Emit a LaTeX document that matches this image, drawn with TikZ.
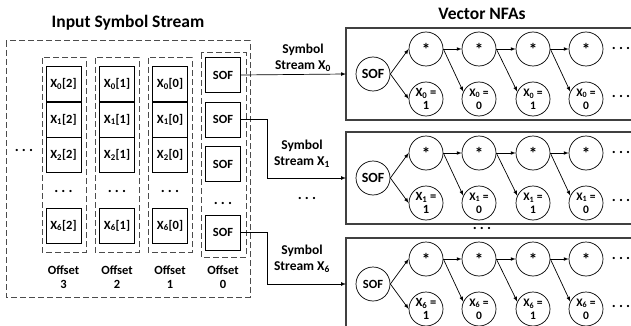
\documentclass[tikz,border=0pt]{standalone}
\usepackage{fontspec}
\setmainfont{Carlito}
\usetikzlibrary{calc}

\newcommand{\threedots}{.\kern3.2pt.\kern3.2pt.}

\tikzset{
	dashbox/.style={draw=black!70, line width=1pt, dash pattern=on 6pt off 3pt},
	cell/.style={draw, line width=0.8pt, minimum width=35pt, minimum height=35pt, inner sep=0pt, font=\bfseries\fontsize{12.5}{14}\selectfont},
	nfabox/.style={draw=black!75, line width=1.2pt},
	state/.style={draw, circle, line width=0.7pt, minimum size=34pt, inner sep=0pt, align=center},
	lbl/.style={font=\bfseries\fontsize{13.5}{16}\selectfont, align=center},
	ttl/.style={font=\bfseries\fontsize{17.5}{20}\selectfont},
	dots/.style={font=\bfseries\fontsize{15}{15}\selectfont, inner sep=0pt},
	edge/.style={-latex, line width=0.7pt},
}

\begin{document}
\begin{tikzpicture}[x=1pt,y=-1pt]
			\clip (0,0) rectangle (631,326);
			\node[ttl] (intitle) at (128,23) {Input Symbol Stream};
			\node[ttl] (nfatitle) at (482,14) {Vector NFAs};
			\draw[dashbox] (6,41) rectangle (250,297);
			\draw[dashbox] (42,58) rectangle (86,252);
			\draw[dashbox] (95,58) rectangle (139,252);
			\draw[dashbox] (148,58) rectangle (192,252);
			\draw[dashbox] (201,53) rectangle (246,257);
			\node[dots] (leftdots) at (24,150) {\threedots};
			\foreach \c/\x/\o in {2/63.5/3, 1/117/2, 0/170/1} {
				\node[cell] (c\c-0) at (\x,84) {X\textsubscript{0}[\c]};
				\node[cell] (c\c-1) at (\x,119.5) {X\textsubscript{1}[\c]};
				\node[cell] (c\c-2) at (\x,155) {X\textsubscript{2}[\c]};
				\node[dots] (c\c-dots) at (\x,191) {\threedots};
				\node[cell] (c\c-6) at (\x,225.5) {X\textsubscript{6}[\c]};
				\node[lbl, font=\bfseries\fontsize{12.5}{14.5}\selectfont] (off\o) at (\x,277) {Offset\\\o};
			}
			\node[cell] (sof0) at (223,75) {SOF};
			\node[cell] (sof1) at (223,119.5) {SOF};
			\node[cell] (sof2) at (223,164) {SOF};
			\node[dots] (sofdots) at (223,203) {\threedots};
			\node[cell] (sof6) at (223,232.5) {SOF};
			\node[lbl, font=\bfseries\fontsize{12.5}{14.5}\selectfont] (off0) at (223,277) {Offset\\0};
			\foreach \b/\t/\k/\fs in {a/28/0/14, b/132/1/14, c/238/6/12.5} {
				\draw[nfabox] (346,\t) rectangle (660,{\t+92});
				\coordinate (\b-in) at (346,{\t+46});
				\node[state, font=\bfseries\fontsize{\fs}{\fs}\selectfont] (\b-sof) at (373,{\t+46}) {SOF};
				\foreach \i/\x/\v/\f in {1/426/1/12.5, 2/479/0/11.5, 3/533/1/11.5, 4/586/0/11.5} {
					\node[state, font=\bfseries\fontsize{17}{17}\selectfont] (\b-s\i) at (\x,{\t+21}) {*};
					\node[state, font=\bfseries\fontsize{\f}{13}\selectfont] (\b-x\i) at (\x,{\t+71}) {X\textsubscript{\k} =\\\v};
				}
				\node[dots] (\b-dots1) at (621,{\t+20}) {\threedots};
				\node[dots] (\b-dots2) at (621,{\t+68}) {\threedots};
				\draw[edge] (\b-sof.east) -- (\b-s1.west);
				\draw[edge] (\b-sof.east) -- (\b-x1.west);
				\foreach \i/\j in {1/2, 2/3, 3/4} {
					\draw[edge] (\b-s\i.east) -- (\b-s\j.west);
					\draw[edge] (\b-s\i.east) -- (\b-x\j.155);
				}
			}
			\node[dots] (nfadots) at (482,228) {\threedots};
			\draw[edge] (sof0.east) -- (a-in);
			\draw[edge] (sof1.east) -- ++(26,0) |- (b-in);
			\draw[edge] (sof6.east) -- ++(26,0) |- (c-in);
			\node[lbl] (lbl0) at (303,58) {Symbol\\Stream X\textsubscript{0}};
			\node[lbl] (lbl1) at (302,154) {Symbol\\Stream X\textsubscript{1}};
			\node[lbl] (lbl6) at (302,259) {Symbol\\Stream X\textsubscript{6}};
			\node[dots] (lbldots) at (307,198) {\threedots};
		\end{tikzpicture}
\end{document}
